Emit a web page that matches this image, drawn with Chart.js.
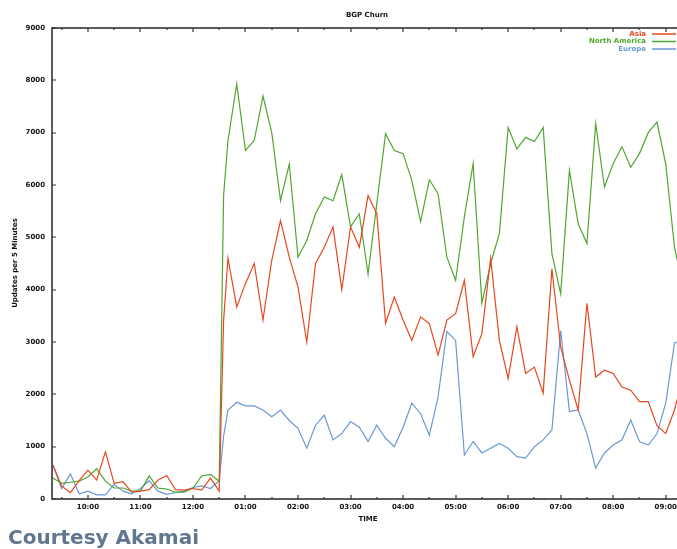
<!DOCTYPE html>
<html><head><meta charset="utf-8">
<script src="https://cdn.jsdelivr.net/npm/chart.js@4"></script>
<style>
html,body{margin:0;padding:0;background:#fff;overflow:hidden;width:677px;height:549px;}
#wrap{position:absolute;left:0;top:0;width:700px;height:549px;}
#credit{position:absolute;left:8px;top:525px;font:bold 20px "DejaVu Sans";color:#637690;white-space:nowrap;}
</style></head><body>
<div id="wrap"><canvas id="c" width="700" height="549"></canvas></div>
<div id="credit">Courtesy Akamai</div>
<script>
// minutes after midnight (09:20 ... 21:15)
const times = [560,570,580,590,600,610,620,630,640,650,660,670,680,690,700,710,720,730,740,750,755,
  760,770,780,790,800,810,820,830,840,850,860,870,880,890,900,910,920,930,940,950,960,970,980,990,
  1000,1010,1020,1030,1040,1050,1060,1070,1080,1090,1100,1110,1120,1130,1140,1150,1160,1170,1180,1190,
  1200,1210,1220,1230,1240,1250,1260,1270,1275];
const asia = [650,250,120,350,550,360,900,300,330,130,150,180,360,450,180,170,200,170,400,150,3400,
  4600,3670,4120,4500,3420,4560,5320,4620,4050,3000,4500,4810,5200,4000,5200,4810,5800,5450,3360,3860,3420,3030,3480,3350,
  2750,3420,3540,4180,2720,3160,4600,3030,2300,3290,2400,2520,2020,4400,2900,2270,1700,3740,2330,2460,
  2400,2140,2080,1860,1860,1400,1250,1700,2020];
const northAmerica = [400,300,320,340,420,580,340,210,210,150,150,440,210,190,130,130,210,440,470,340,5800,
  6850,7930,6660,6850,7700,7000,5700,6400,4620,4940,5450,5770,5700,6200,5200,5450,4300,5650,6980,6660,6600,6090,5300,6100,
  5830,4620,4180,5390,6410,3740,4500,5070,7100,6690,6910,6830,7100,4690,3920,6280,5260,4880,7170,5960,
  6410,6730,6340,6600,7000,7200,6400,4810,4430];
const europe = [650,200,480,100,150,80,80,280,150,100,200,350,150,90,120,150,220,250,200,350,1200,
  1700,1850,1780,1780,1700,1570,1700,1500,1350,970,1410,1600,1130,1250,1480,1370,1100,1410,1160,1000,1370,1830,1630,1220,
  1950,3200,3030,840,1100,880,970,1060,970,810,780,1000,1130,1320,3220,1670,1700,1250,590,880,
  1030,1130,1510,1100,1030,1250,1830,2980,3010];
const hourTicks = [600,660,720,780,840,900,960,1020,1080,1140,1200,1260];
const tickLabels = ["10:00","11:00","12:00","01:00","02:00","03:00","04:00","05:00","06:00","07:00","08:00","09:00"];
const seriesNames = ["Asia","North America","Europe"];
const colors = ["#e5481f","#4ea72e","#6c98d6"];

const pts = arr => arr.map((v,i)=>({x:times[i], y:v}));
const F = 'bold 7px "DejaVu Sans"';

const deco = {
  id:'deco',
  afterDraw(chart){
    const ctx = chart.ctx, a = chart.chartArea, xs = chart.scales.x, ys = chart.scales.y;
    ctx.save();
    ctx.strokeStyle = '#333'; ctx.lineWidth = 1.6;
    ctx.strokeRect(a.left, a.top, a.right - a.left, a.bottom - a.top);
    ctx.lineWidth = 1.2;
    ctx.beginPath();
    hourTicks.forEach(v=>{
      const px = Math.round(xs.getPixelForValue(v));
      ctx.moveTo(px, a.bottom); ctx.lineTo(px, a.bottom-4);
      ctx.moveTo(px, a.top); ctx.lineTo(px, a.top+4);
      const pm = Math.round(xs.getPixelForValue(v-30));
      ctx.moveTo(pm, a.bottom); ctx.lineTo(pm, a.bottom-2);
      ctx.moveTo(pm, a.top); ctx.lineTo(pm, a.top+2);
    });
    const last = Math.round(xs.getPixelForValue(hourTicks[hourTicks.length-1]+30));
    ctx.moveTo(last, a.bottom); ctx.lineTo(last, a.bottom-2);
    ctx.moveTo(last, a.top); ctx.lineTo(last, a.top+2);
    for(let v=0; v<=9000; v+=1000){
      const py = Math.round(ys.getPixelForValue(v));
      ctx.moveTo(a.left, py); ctx.lineTo(a.left+4, py);
    }
    ctx.stroke();
    ctx.fillStyle = '#111'; ctx.font = F; ctx.textBaseline = 'middle';
    ctx.textAlign = 'center';
    ctx.fillText('BGP Churn', 367, 15);
    ctx.fillText('TIME', 368, 519);
    ctx.save();
    ctx.translate(15, 263); ctx.rotate(-Math.PI/2);
    ctx.fillText('Updates per 5 Minutes', 0, 0);
    ctx.restore();
    ctx.textAlign = 'right';
    seriesNames.forEach((n,i)=>{
      const y = 34 + i*7.5;
      ctx.fillStyle = colors[i];
      ctx.fillText(n, 646, y);
      ctx.strokeStyle = colors[i]; ctx.lineWidth = 1.5;
      ctx.beginPath(); ctx.moveTo(652, y); ctx.lineTo(676, y); ctx.stroke();
    });
    ctx.restore();
  }
};

new Chart(document.getElementById('c'), {
  type:'line',
  data:{ datasets:[
    {label:seriesNames[0], data:pts(asia), borderColor:colors[0]},
    {label:seriesNames[1], data:pts(northAmerica), borderColor:colors[1]},
    {label:seriesNames[2], data:pts(europe), borderColor:colors[2]}
  ].map(d=>Object.assign(d,{borderWidth:1.2, pointRadius:0, tension:0, fill:false}))},
  options:{
    responsive:false, animation:false, devicePixelRatio:1,
    layout:{padding:{top:28, right:8, left:0, bottom:0}},
    plugins:{legend:{display:false}, title:{display:false}, tooltip:{enabled:false}},
    scales:{
      x:{type:'linear', min:559, max:1290,
        afterBuildTicks:s=>{ s.ticks = hourTicks.map(v=>({value:v})); },
        afterFit:s=>{ s.height = 50; },
        ticks:{callback:(v,i)=>tickLabels[i], font:{family:'DejaVu Sans', size:7, weight:'bold'}, color:'#111', maxRotation:0, autoSkip:false, padding:4},
        grid:{display:false, drawTicks:false}, border:{display:false}},
      y:{min:0, max:9000,
        afterFit:s=>{ s.width = 52; },
        ticks:{stepSize:1000, callback:v=>String(v), font:{family:'DejaVu Sans', size:7, weight:'bold'}, color:'#111', padding:7},
        grid:{display:false, drawTicks:false}, border:{display:false}}
    }
  },
  plugins:[deco]
});
</script>
</body></html>
